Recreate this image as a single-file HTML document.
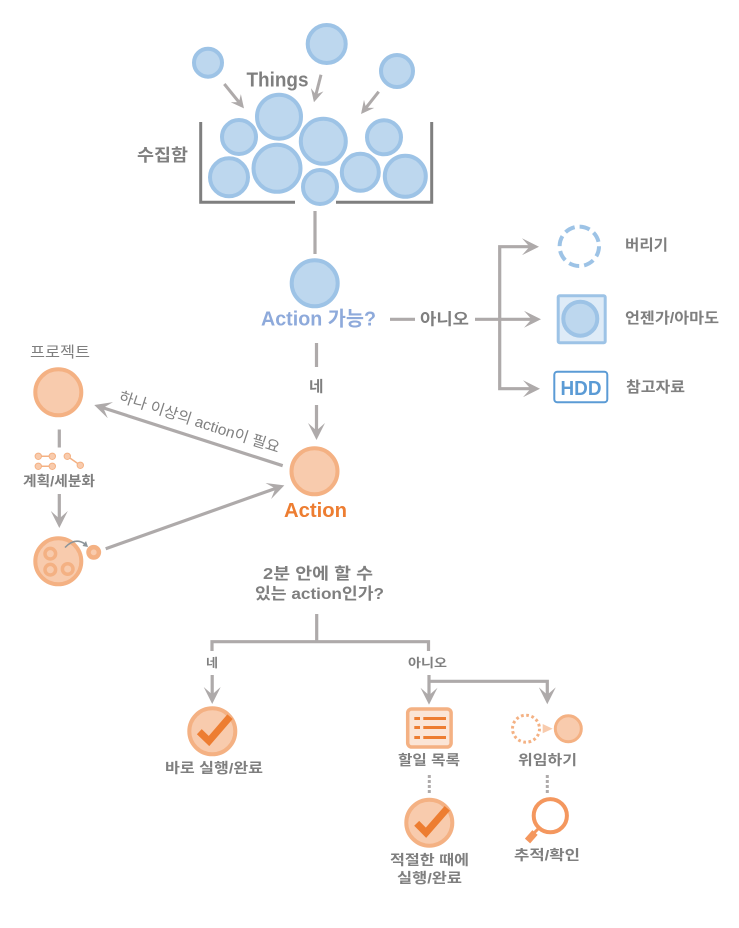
<!DOCTYPE html>
<html><head><meta charset="utf-8"><style>
html,body{margin:0;padding:0;background:#fff}
svg{display:block}
text{font-family:"Liberation Sans","Noto Sans CJK KR",sans-serif;fill:#7f7f7f;font-weight:bold}
.b{fill:#bdd7ee;stroke:#9dc3e6;stroke-width:4}
.o{fill:#f8cbad;stroke:#f4b183;stroke-width:4}
.l{fill:none;stroke:#aeaaaa;stroke-width:3.2}
.s{fill:none;stroke:#aeaaaa;stroke-width:3}
.d{fill:#f8cbad;stroke:#f4b183;stroke-width:1}
.c{fill:none;stroke:#ed7d31;stroke-width:7}
.r{fill:#ed7d31}
</style></head><body>
<svg width="739" height="928" viewBox="0 0 739 928" xmlns="http://www.w3.org/2000/svg">
<defs>
<marker id="A" markerUnits="userSpaceOnUse" markerWidth="17" markerHeight="17" refX="12" refY="8.5" orient="auto"><path d="M0,0L17,8.5L0,17L7.5,8.5Z" fill="#aeaaaa"/></marker>
<marker id="S" markerUnits="userSpaceOnUse" markerWidth="13" markerHeight="13" refX="10" refY="6.5" orient="auto"><path d="M0,0L13,6.5L0,13L5,6.5Z" fill="#aeaaaa"/></marker>
</defs>

<!-- things -->
<circle class="b" cx="208" cy="62.7" r="14"/>
<circle class="b" cx="326.7" cy="44" r="19"/>
<circle class="b" cx="397" cy="71" r="16"/>
<text x="246.5" y="86.5" font-size="20" textLength="62" lengthAdjust="spacingAndGlyphs">Things</text>
<line class="s" x1="224.3" y1="84" x2="242.1" y2="106" marker-end="url(#S)"/>
<line class="s" x1="321" y1="74.7" x2="314.7" y2="99.4" marker-end="url(#S)"/>
<line class="s" x1="378.7" y1="91.7" x2="362.9" y2="111.7" marker-end="url(#S)"/>

<!-- bucket -->
<circle class="b" cx="279" cy="116.7" r="22"/>
<circle class="b" cx="239" cy="137" r="17"/>
<circle class="b" cx="323.3" cy="141.3" r="22.5"/>
<circle class="b" cx="384" cy="137.3" r="17"/>
<circle class="b" cx="277" cy="168.3" r="23.5"/>
<circle class="b" cx="229" cy="177.3" r="19"/>
<circle class="b" cx="320" cy="187" r="17"/>
<circle class="b" cx="360.3" cy="172.3" r="18.5"/>
<circle class="b" cx="405.3" cy="176.3" r="20.5"/>
<path d="M200.7,122V202.3H295M336,202.3H431.7V122" fill="none" stroke="#7f7f7f" stroke-width="3"/>
<text x="137" y="161" font-size="17" textLength="51" lengthAdjust="spacingAndGlyphs">수집함</text>

<!-- action possible -->
<line class="l" x1="315" y1="211" x2="315" y2="254"/>
<circle class="b" cx="314.7" cy="283.3" r="23"/>
<text x="261" y="325.5" font-size="20" textLength="115" lengthAdjust="spacingAndGlyphs" style="fill:#8eaadb">Action 가능?</text>
<line class="l" x1="390" y1="319.3" x2="415" y2="319.3"/>
<text x="420" y="324.5" font-size="16" textLength="49" lengthAdjust="spacingAndGlyphs">아니오</text>
<line class="l" x1="475" y1="319.3" x2="536" y2="319.3" marker-end="url(#A)"/>
<path class="l" d="M499.7,319V246.7H534" marker-end="url(#A)"/>
<path class="l" d="M499.7,319V388.7H535" marker-end="url(#A)"/>

<circle cx="579.3" cy="246.3" r="19.7" fill="none" stroke="#9dc3e6" stroke-width="4" stroke-dasharray="10.5 5"/>
<rect x="558.2" y="295.8" width="47" height="47" rx="1.5" fill="#deebf7" stroke="#9dc3e6" stroke-width="3"/>
<circle class="b" cx="580.3" cy="318.7" r="17"/>
<rect x="554.3" y="371.7" width="53" height="30.6" rx="3" fill="#fff" stroke="#5b9bd5" stroke-width="2"/>
<text x="560.5" y="395" font-size="20" textLength="41" lengthAdjust="spacingAndGlyphs" style="fill:#5b9bd5">HDD</text>
<text x="625" y="250" font-size="15" textLength="43" lengthAdjust="spacingAndGlyphs">버리기</text>
<text x="625" y="323" font-size="15" textLength="94" lengthAdjust="spacingAndGlyphs">언젠가/아마도</text>
<text x="626" y="392" font-size="15" textLength="59" lengthAdjust="spacingAndGlyphs">참고자료</text>

<!-- yes -->
<line class="l" x1="316.5" y1="343" x2="316.5" y2="367"/>
<text x="309" y="391.5" font-size="15" textLength="14.5" lengthAdjust="spacingAndGlyphs">네</text>
<line class="l" x1="316.5" y1="405" x2="316.5" y2="435" marker-end="url(#A)"/>

<!-- action -->
<circle class="o" cx="314.5" cy="471.3" r="23"/>
<text x="284" y="517" font-size="20" textLength="63" lengthAdjust="spacingAndGlyphs" style="fill:#ed7d31">Action</text>
<line class="l" x1="282.7" y1="465.7" x2="99" y2="406.5" marker-end="url(#A)"/>
<text transform="translate(118,401) rotate(18)" font-size="15" textLength="168" lengthAdjust="spacingAndGlyphs" style="font-weight:normal">하나 이상의 action이 필요</text>
<line class="l" x1="105.7" y1="548.7" x2="279.6" y2="487" marker-end="url(#A)"/>

<!-- project -->
<text x="30" y="357" font-size="15" textLength="60" lengthAdjust="spacingAndGlyphs" style="font-weight:normal">프로젝트</text>
<circle class="o" cx="58.3" cy="392.3" r="23"/>
<line class="l" x1="59.3" y1="429.5" x2="59.3" y2="447.5"/>
<path d="M38.3,456.3H52.3M38.3,466.3H52.3M67.3,456.3L80.3,465.3" stroke="#f4b183" stroke-width="1.5" fill="none"/>
<circle class="d" cx="38.3" cy="456.3" r="3.2"/>
<circle class="d" cx="52.3" cy="456.3" r="3.2"/>
<circle class="d" cx="38.3" cy="466.3" r="3.2"/>
<circle class="d" cx="52.3" cy="466.3" r="3.2"/>
<circle class="d" cx="67.3" cy="456.3" r="3.2"/>
<circle class="d" cx="80.3" cy="465.3" r="3.2"/>
<text x="23" y="486" font-size="14" textLength="72" lengthAdjust="spacingAndGlyphs">계획/세분화</text>
<line class="l" x1="59.3" y1="494" x2="59.3" y2="523" marker-end="url(#A)"/>
<circle class="o" cx="58.3" cy="561.3" r="23"/>
<circle cx="50.3" cy="553.7" r="5.3" fill="#f8cbad" stroke="#f4b183" stroke-width="3.5"/>
<circle cx="50.3" cy="569.7" r="5.3" fill="#f8cbad" stroke="#f4b183" stroke-width="3.5"/>
<circle cx="67.7" cy="569" r="5.3" fill="#f8cbad" stroke="#f4b183" stroke-width="3.5"/>
<circle cx="93.7" cy="552.3" r="5.2" fill="#f8cbad" stroke="#f4b183" stroke-width="4.5"/>
<path d="M65,547.5Q75,537 85,544" fill="none" stroke="#8c9499" stroke-width="1.5"/>
<path d="M88,547L82.5,546L86,541Z" fill="#8c9499"/>

<!-- decision -->
<text x="263" y="579" font-size="16" textLength="110" lengthAdjust="spacingAndGlyphs">2분 안에 할 수</text>
<text x="255" y="599" font-size="16" textLength="129" lengthAdjust="spacingAndGlyphs">있는 action인가?</text>
<line class="l" x1="316.7" y1="614" x2="316.7" y2="641"/>
<path class="l" d="M212,651V641.7H428.5V651"/>
<text x="206" y="667" font-size="12" textLength="12" lengthAdjust="spacingAndGlyphs">네</text>
<text x="408" y="667" font-size="12" textLength="39" lengthAdjust="spacingAndGlyphs">아니오</text>
<line class="l" x1="212.2" y1="675" x2="212.2" y2="699" marker-end="url(#A)"/>
<line class="l" x1="429" y1="675" x2="429" y2="699.7" marker-end="url(#A)"/>
<path class="l" d="M429,681.3H547.3V699.3" marker-end="url(#A)"/>

<!-- done -->
<circle class="o" cx="212.3" cy="731.3" r="23"/>
<polyline class="c" points="199.3,731.7 209,741 230,716.7"/>
<text x="165" y="773" font-size="14" textLength="98" lengthAdjust="spacingAndGlyphs">바로 실행/완료</text>

<!-- list -->
<rect x="407.7" y="709" width="43.4" height="38" rx="4" fill="#fbe5d6" stroke="#f4b183" stroke-width="3.5"/>
<rect class="r" x="414.3" y="717" width="5.7" height="3"/>
<rect class="r" x="423.3" y="717" width="22.7" height="3"/>
<rect class="r" x="414.3" y="726" width="5.7" height="3"/>
<rect class="r" x="423.3" y="726" width="22.7" height="3"/>
<rect class="r" x="414.3" y="736" width="5.7" height="3"/>
<rect class="r" x="423.3" y="736" width="22.7" height="3"/>
<text x="398" y="765" font-size="14" textLength="62" lengthAdjust="spacingAndGlyphs">할일 목록</text>
<line x1="429.3" y1="775" x2="429.3" y2="793.5" stroke="#aeaaaa" stroke-width="3" stroke-dasharray="3 2"/>
<circle class="o" cx="429.3" cy="822.7" r="23"/>
<polyline class="c" points="416.7,823.3 426,832.7 447.3,808.3"/>
<text x="390" y="865" font-size="14" textLength="79" lengthAdjust="spacingAndGlyphs">적절한 때에</text>
<text x="397" y="883" font-size="14" textLength="65" lengthAdjust="spacingAndGlyphs">실행/완료</text>

<!-- delegate -->
<circle cx="526" cy="728.7" r="13.5" fill="none" stroke="#f4b183" stroke-width="3" stroke-dasharray="2.7 2.6"/>
<path d="M542.7,724L552.7,728.7L542.7,733.3Z" fill="#f8cbad"/>
<circle cx="568.3" cy="728.7" r="13" fill="#f8cbad" stroke="#f4b183" stroke-width="3"/>
<text x="518" y="765" font-size="14" textLength="59" lengthAdjust="spacingAndGlyphs">위임하기</text>
<line x1="547.3" y1="775" x2="547.3" y2="793.5" stroke="#aeaaaa" stroke-width="3" stroke-dasharray="3 2"/>
<circle cx="550.3" cy="815.7" r="16.6" fill="#fff" stroke="#f4975e" stroke-width="4"/>
<line x1="539" y1="828" x2="534" y2="833" stroke="#f4975e" stroke-width="3"/>
<line x1="535" y1="832.5" x2="527.5" y2="841" stroke="#f4975e" stroke-width="7"/>
<text x="514" y="860" font-size="14" textLength="66" lengthAdjust="spacingAndGlyphs">추적/확인</text>
</svg>
</body></html>
